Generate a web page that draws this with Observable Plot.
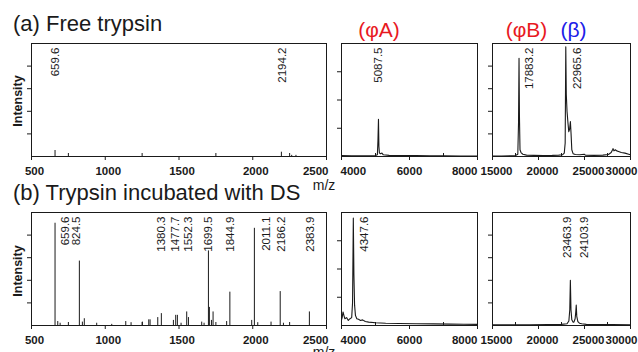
<!DOCTYPE html>
<html><head><meta charset="utf-8">
<script src="https://cdn.jsdelivr.net/npm/d3@7"></script>
<script src="https://cdn.jsdelivr.net/npm/@observablehq/plot@0.6"></script>
<style>
html,body{margin:0;padding:0;background:#fff;}
#fig{position:relative;width:638px;height:352px;overflow:hidden;font-family:"Liberation Sans",Arial,sans-serif;background:#fff;}
#fig svg{position:absolute;overflow:visible;}
</style></head><body><div id="fig"></div>
<script>
// ---------- DATA ----------
// (a) Free trypsin, 500-2500 (stick spectrum)
const aLowMz  = [659.6, 2194.2, 2264, 2293];
const aLowInt = [5.3, 3.8, 1.0, 1.0];
const aLowLabels = ["659.6", "2194.2"];
const aLowLabelMz = [659.6, 2198];

// (a) 4000-8000 (profile)
const aMidMz  = [4000, 4300, 4700, 5000, 5055, 5072, 5087.5, 5100, 5115, 5150, 5190, 5230, 5400, 5800, 6200, 6600, 7000, 7500, 8000];
const aMidInt = [0.8, 0.7, 0.7, 0.8, 1.5, 14, 33, 9, 3, 2.5, 3, 1.5, 1, 0.8, 0.8, 0.7, 0.6, 0.5, 0.5];
const aMidLabels = ["5087.5"];
const aMidLabelMz = [5087.5];

// (a) 15000-30000 (profile)
const aHighMz  = [15000, 16000, 17000, 17500, 17750, 17830, 17883.2, 17930, 17990, 18100, 18300, 18700, 19500, 20500, 21500, 22200, 22600, 22800, 22900, 22965.6, 23020, 23100, 23200, 23290, 23380, 23467, 23540, 23620, 23760, 24000, 24500, 24970, 25100, 26000, 27000, 27600, 27900, 28050, 28100, 28200, 28350, 28500, 28700, 29000, 29400, 29800, 30000];
const aHighInt = [0.4, 0.5, 0.6, 0.8, 2, 30, 87, 35, 6, 3.5, 2, 1.2, 1, 0.9, 1, 1.2, 1.5, 3, 12, 97, 55, 40, 30, 22, 24, 31, 20, 6, 2.5, 1.8, 1.5, 2, 1.2, 1, 1.2, 1.8, 3.5, 6, 7, 5, 6, 5, 4.5, 3.5, 3, 2, 1.5];
const aHighLabels = ["17883.2", "22965.6"];
const aHighLabelMz = [19051, 24197];

// (b) Trypsin incubated with DS, 500-2500 (stick spectrum)
const bLowMz  = [659.6, 678, 694, 824.5, 845, 858, 942, 1044, 1139, 1175, 1252, 1295, 1304, 1356, 1380.3, 1462, 1477.7, 1489, 1514, 1552.3, 1564, 1654, 1670, 1699.5, 1706, 1720, 1731, 1823, 1844.9, 1993, 2011.1, 2034, 2124, 2186.2, 2208, 2383.9];
const bLowInt = [90.5, 3.5, 2, 57, 3, 6, 2, 1, 3.5, 2.5, 3, 5, 5, 7, 10.5, 4.5, 9, 9, 2, 12, 7, 3, 2, 66, 16, 4.5, 12, 3.5, 29.5, 4.5, 86, 2.5, 3, 30, 2, 12];
const bLowLabels = ["659.6", "824.5", "1380.3", "1477.7", "1552.3", "1699.5", "1844.9", "2011.1", "2186.2", "2383.9"];
const bLowLabelMz = [727, 806, 1383, 1473, 1563, 1699, 1846, 2095, 2196, 2388];

// (b) 4000-8000 (profile)
const bMidMz  = [4000, 4020, 4045, 4070, 4100, 4150, 4200, 4250, 4300, 4325, 4347.6, 4365, 4385, 4410, 4450, 4500, 4560, 4620, 4700, 4800, 5000, 5300, 5700, 6200, 6700, 7200, 7600, 8000];
const bMidInt = [5, 7, 12, 9, 6, 7, 4.5, 6, 7, 20, 95, 45, 18, 9, 6, 5.5, 4.5, 5, 3.5, 3, 2.5, 2, 1.8, 1.5, 1.4, 1.2, 1.1, 1];
const bMidLabels = ["4347.6"];
const bMidLabelMz = [4676];

// (b) 15000-30000 (profile)
const bHighMz  = [15000, 17000, 19000, 21000, 22500, 23100, 23300, 23400, 23463.9, 23530, 23620, 23750, 23850, 23980, 24050, 24103.9, 24160, 24280, 24450, 24700, 25200, 26500, 28000, 30000];
const bHighInt = [0.6, 0.7, 0.7, 0.8, 1, 1.5, 4, 14, 40, 14, 5, 3, 3, 6, 12, 18, 8, 3.5, 2, 1.5, 1, 0.8, 0.8, 0.7];
const bHighLabels = ["23463.9", "24103.9"];
const bHighLabelMz = [23102, 24964];

// axis ticks
const lowDomain = [500, 2500],  lowMajor = [500, 1000, 1500, 2000, 2500], lowMinor = [750, 1250, 1750, 2250];
const midDomain = [4000, 8000], midMajor = [4000, 6000, 8000], midMinor = [5000, 7000];
const highDomain = [15000, 30000], highMajor = [15000, 20000, 25000, 30000], highMinor = [17500, 22500, 27500];
const yTicks5 = [20, 40, 60, 80], yTicks4 = [25, 50, 75];

// ---------- LAYOUT ----------
const FONT = '"Liberation Sans", Arial, sans-serif';
const fig = document.getElementById("fig");
const ML = 8, MR = 10, MT = 2, MB = 26;
const INK = "#1a1a1a";
const TICKFONT = 11.5;

function zip(mz, it) { return mz.map((m, i) => ({mz: m, int: it[i]})); }

function panel({left, right, top, bottom, domain, major, minor, yTicks, mz, it, kind, labels, labelMz, tick}) {
  const fw = right - left, fh = bottom - top;
  const data = zip(mz, it);
  const spectrum = kind === "stick"
    ? Plot.ruleX(data, {x: "mz", y1: 0, y2: "int", stroke: INK, strokeWidth: 1})
    : Plot.line(data, {x: "mz", y: "int", stroke: INK, strokeWidth: 1.1});
  const mid = major.filter((v, i) => !((i === 0 && tick.first) || (i === major.length - 1 && tick.last)));
  const lab = {frameAnchor: "bottom", lineAnchor: "top", dy: 10.5, fontWeight: "bold", fontSize: TICKFONT, fill: INK};
  const marks = [
    Plot.axisY({ticks: yTicks, tickSize: 4, tickFormat: () => "", label: null, anchor: "left", stroke: INK}),
    Plot.axisX({ticks: major, tickSize: 4, tickFormat: () => "", label: null, anchor: "bottom", stroke: INK}),
    Plot.tickX(minor, {x: d => d, insetTop: fh - 3, stroke: INK}),
    spectrum,
    Plot.frame({stroke: INK}),
    Plot.text(mid, {x: d => d, text: d => String(d), dx: tick.dx, textAnchor: "middle", ...lab}),
    Plot.text(labels, {x: (d, i) => labelMz[i], text: d => d, frameAnchor: "top", dy: 4, rotate: -90,
      textAnchor: "end", lineAnchor: "middle", fontSize: 11.5, fill: INK})
  ];
  if (tick.first) marks.push(Plot.text([major[0]], {x: d => d, text: d => String(d), dx: tick.firstDx, textAnchor: tick.first, ...lab}));
  if (tick.last) marks.push(Plot.text([major[major.length - 1]], {x: d => d, text: d => String(d), dx: tick.lastDx, textAnchor: tick.last, ...lab}));
  const svg = Plot.plot({
    width: fw + ML + MR, height: fh + MT + MB,
    marginLeft: ML, marginRight: MR, marginTop: MT, marginBottom: MB,
    x: {domain}, y: {domain: [0, 100]},
    style: {fontFamily: FONT, background: "transparent", overflow: "visible"},
    marks
  });
  svg.style.left = (left - ML) + "px";
  svg.style.top = (top - MT) + "px";
  fig.appendChild(svg);
}

const tickLow = {dx: 3, last: "end", lastDx: 2};
const tickMid = {dx: 0, first: "start", firstDx: -1, last: "end", lastDx: 0};
const tickHigh = {dx: 4, last: "end", lastDx: 7};

const rows = [{top: 43, bottom: 156}, {top: 212, bottom: 325}];
const cols = [{left: 31, right: 326}, {left: 341, right: 477}, {left: 492, right: 630}];

panel({...cols[0], ...rows[0], domain: lowDomain, major: lowMajor, minor: lowMinor, yTicks: yTicks5, mz: aLowMz, it: aLowInt, kind: "stick", labels: aLowLabels, labelMz: aLowLabelMz, tick: tickLow});
panel({...cols[1], ...rows[0], domain: midDomain, major: midMajor, minor: midMinor, yTicks: yTicks4, mz: aMidMz, it: aMidInt, kind: "line", labels: aMidLabels, labelMz: aMidLabelMz, tick: tickMid});
panel({...cols[2], ...rows[0], domain: highDomain, major: highMajor, minor: highMinor, yTicks: yTicks5, mz: aHighMz, it: aHighInt, kind: "line", labels: aHighLabels, labelMz: aHighLabelMz, tick: tickHigh});
panel({...cols[0], ...rows[1], domain: lowDomain, major: lowMajor, minor: lowMinor, yTicks: yTicks5, mz: bLowMz, it: bLowInt, kind: "stick", labels: bLowLabels, labelMz: bLowLabelMz, tick: tickLow});
panel({...cols[1], ...rows[1], domain: midDomain, major: midMajor, minor: midMinor, yTicks: yTicks4, mz: bMidMz, it: bMidInt, kind: "line", labels: bMidLabels, labelMz: bMidLabelMz, tick: tickMid});
panel({...cols[2], ...rows[1], domain: highDomain, major: highMajor, minor: highMinor, yTicks: yTicks5, mz: bHighMz, it: bHighInt, kind: "line", labels: bHighLabels, labelMz: bHighLabelMz, tick: tickHigh});

// ---------- TITLES / ANNOTATIONS ----------
const NS = "http://www.w3.org/2000/svg";
const ov = document.createElementNS(NS, "svg");
ov.setAttribute("width", 638); ov.setAttribute("height", 352);
ov.style.left = "0px"; ov.style.top = "0px"; ov.style.pointerEvents = "none";
function txt(s, x, y, attrs) {
  const t = document.createElementNS(NS, "text");
  t.textContent = s;
  t.setAttribute("x", x); t.setAttribute("y", y);
  t.setAttribute("font-family", FONT);
  for (const k in attrs) t.setAttribute(k, attrs[k]);
  ov.appendChild(t);
  return t;
}
txt("(a) Free trypsin", 13, 31, {"font-size": 22, fill: INK});
txt("(b) Trypsin incubated with DS", 13, 200, {"font-size": 22, fill: INK});
txt("Intensity", 0, 0, {"font-size": 12.5, "font-weight": "bold", fill: INK, "text-anchor": "middle", transform: "translate(22,101) rotate(-90)"});
txt("Intensity", 0, 0, {"font-size": 12.5, "font-weight": "bold", fill: INK, "text-anchor": "middle", transform: "translate(22,271) rotate(-90)"});
txt("m/z", 324, 189.5, {"font-size": 14, fill: INK, "text-anchor": "middle"});
txt("m/z", 324, 357, {"font-size": 14, fill: INK, "text-anchor": "middle"});
txt("(\u03C6A)", 379, 37, {"font-size": 21, fill: "#e8191f", "text-anchor": "middle"});
txt("(\u03C6B)", 526.5, 37, {"font-size": 21, fill: "#e8191f", "text-anchor": "middle"});
txt("(\u03B2)", 573.5, 37, {"font-size": 21, fill: "#2020e8", "text-anchor": "middle"});
fig.appendChild(ov);
</script></body></html>
